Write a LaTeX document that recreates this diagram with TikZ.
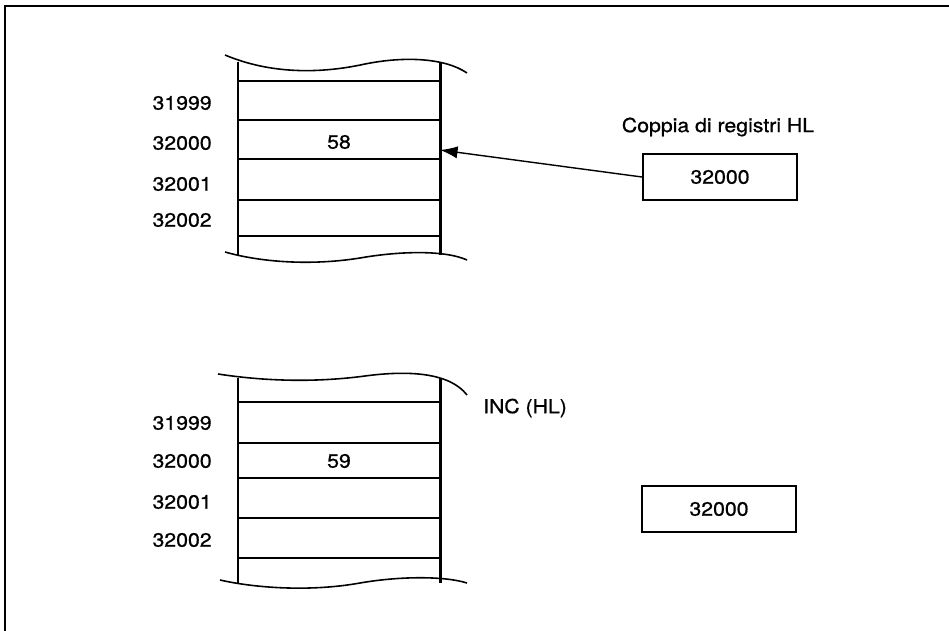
\documentclass[tikz,border=0pt]{standalone}
\usepackage{fontspec}
\setmainfont{TeX Gyre Heros}[FakeStretch=1.1, FakeBold=0.8]
\usetikzlibrary{arrows.meta}
\usetikzlibrary{calc,positioning}

\begin{document}
\begin{tikzpicture}[x=0.02cm, y=-0.02cm,
    addr/.style={anchor=east, inner sep=0pt, font=\fontsize{11}{13}\selectfont},
    cell/.style={inner sep=0pt, font=\fontsize{11}{13}\selectfont},
    regbox/.style={draw, line width=1.2pt, minimum width=154*0.02cm, minimum height=46*0.02cm, font=\fontsize{11}{13}\selectfont},
    wall/.style={line width=1.7pt},
    sep/.style={line width=0.8pt},
    edge/.style={line width=0.9pt}]
    \useasboundingbox (0,0) rectangle (949,631);
    % frame
    \draw[line width=1.1pt] (949,6) -- (5,6) -- (5,631);

    % memory before
    \draw[wall] (238,62) -- (238,255);
    \draw[wall] (440,62) -- (440,255);
    \draw[edge] (225,55) .. controls (270,74) and (320,74) .. (365,64)
        .. controls (405,56) and (445,58) .. (467,73);
    \draw[edge] (225,252) .. controls (260,262) and (310,266) .. (360,258)
        .. controls (400,251) and (445,250) .. (467,260);
    \foreach \y in {81,120,159,200,236}
        \draw[sep] (238,\y) -- (440,\y);
    \node[addr] (a1) at (212,103) {31999};
    \node[addr] (a2) at (212,143) {32000};
    \node[addr] (a3) at (212,184) {32001};
    \node[addr] (a4) at (212,220) {32002};
    \node[cell] (v1) at (339,142) {58};
    \coordinate (m1) at (440,150);

    \node[regbox] (hl1) at (720,177) {32000};
    \node[cell] (t1) at (718,127) {Coppia di registri HL};
    \draw[line width=0.8pt, -{Latex[length=10pt,width=7pt]}] (hl1.west) -- (m1);

    % memory after
    \node[cell] (op) at (525,408) {INC (HL)};
    \draw[wall] (238,378) -- (238,583);
    \draw[wall] (440,378) -- (440,583);
    \draw[edge] (218,374) .. controls (270,382) and (320,382) .. (365,376)
        .. controls (410,370) and (450,373) .. (467,395);
    \draw[edge] (220,580) .. controls (255,588) and (310,592) .. (360,583)
        .. controls (400,576) and (445,576) .. (467,583);
    \foreach \y in {402,443,478,518,558}
        \draw[sep] (238,\y) -- (440,\y);
    \node[addr] (b1) at (212,423) {31999};
    \node[addr] (b2) at (212,461) {32000};
    \node[addr] (b3) at (212,502) {32001};
    \node[addr] (b4) at (212,540) {32002};
    \node[cell] (v2) at (339,461) {59};

    \node[regbox] (hl2) at (719,509) {32000};
\end{tikzpicture}
\end{document}
